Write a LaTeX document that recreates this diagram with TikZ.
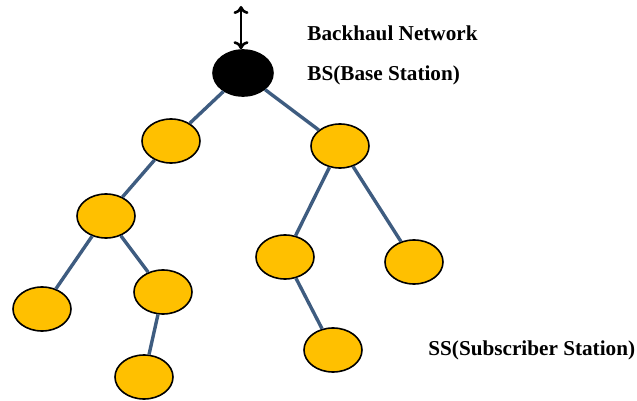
\documentclass[tikz,border=0pt]{standalone}
\usepackage{fontspec}
\setmainfont{Liberation Serif}
\usepackage{tikz}
\usetikzlibrary{arrows.meta,shapes.geometric}

\tikzset{
  station/.style={ellipse,draw=black,line width=0.8pt,fill=stfill,
    minimum width=29pt,minimum height=22pt,inner sep=0pt},
  link/.style={draw=linkblue,line width=1.7pt},
  lbl/.style={anchor=west,inner sep=0pt,font=\fontsize{10.6}{12}\selectfont\bfseries}
}
\definecolor{stfill}{HTML}{FFC000}
\definecolor{linkblue}{HTML}{3E5C80}

\begin{document}
\begin{tikzpicture}[x=0.5pt,y=-0.5pt]
\useasboundingbox (0,0) rectangle (637,401);

\node[station,fill=black,minimum width=30pt,minimum height=23pt] (bs) at (243,73) {};
\node[station] (s1) at (171,141) {};
\node[station] (s2) at (340,146) {};
\node[station] (s3) at (106,216) {};
\node[station] (s4) at (42,309) {};
\node[station] (s5) at (163,292) {};
\node[station] (s6) at (144,377) {};
\node[station] (s7) at (285,257) {};
\node[station] (s8) at (414,262) {};
\node[station] (s9) at (333,350) {};

\coordinate (top) at (241,6);

\path[link] (bs) edge (s1) (bs) edge (s2)
  (s1) edge (s3) (s3) edge (s4) (s3) edge (s5) (s5) edge (s6)
  (s2) edge (s7) (s2) edge (s8) (s7) edge (s9);

\draw[{To[length=4pt,width=7.5pt]}-{To[length=4pt,width=7.5pt]},line width=1.3pt] (top) -- (top|-bs.north);

\node[lbl] (bh) at (307,33) {Backhaul Network};
\node[lbl] (bsl) at (307,75) {BS(Base Station)};
\node[lbl] (ssl) at (428,350) {SS(Subscriber Station)};

\end{tikzpicture}
\end{document}
